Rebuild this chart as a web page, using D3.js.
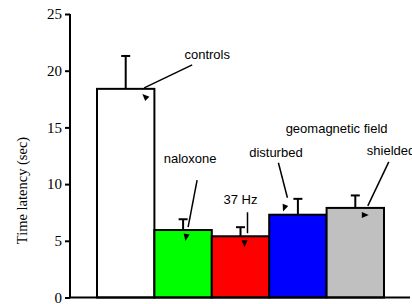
<!DOCTYPE html>
<html>
<head>
<meta charset="utf-8">
<script src="https://cdn.jsdelivr.net/npm/d3@7"></script>
<style>
  body { margin: 0; background: #fff; }
  svg { display: block; }
</style>
</head>
<body>
<div id="chart"></div>
<script>
var width  = 412;
var height = 304;

// data
var groups  = ['controls', 'naloxone', '37 Hz', 'disturbed', 'shielded'];
var means   = [18.4, 5.95, 5.4, 7.3, 7.9];
var errors  = [2.9, 0.95, 0.8, 1.4, 1.1];
var colours = ['#ffffff', '#00ff00', '#ff0000', '#0000ff', '#c0c0c0'];
var yTicks  = [0, 5, 10, 15, 20, 25];

var svg = d3.select('#chart')
    .append('svg')
    .attr('width', width)
    .attr('height', height);

var x = d3.scaleBand()
    .domain(groups)
    .range([97, 384])
    .padding(0);

var y = d3.scaleLinear()
    .domain([0, 25])
    .range([297.5, 14]);

var rows = groups.map(function(g, i) {
  return { group: g, mean: means[i], err: errors[i], colour: colours[i] };
});

// error bars (upper only, drawn first so bar outline sits on top)
var eb = svg.append('g');
eb.selectAll('line.stem')
    .data(rows)
    .enter()
    .append('line')
    .attr('x1', function(d) { return x(d.group) + x.bandwidth() / 2; })
    .attr('x2', function(d) { return x(d.group) + x.bandwidth() / 2; })
    .attr('y1', function(d) { return y(d.mean); })
    .attr('y2', function(d) { return y(d.mean + d.err); })
    .attr('stroke', '#000')
    .attr('stroke-width', 2);
eb.selectAll('line.cap')
    .data(rows)
    .enter()
    .append('line')
    .attr('x1', function(d) { return x(d.group) + x.bandwidth() / 2 - 4.5; })
    .attr('x2', function(d) { return x(d.group) + x.bandwidth() / 2 + 4.5; })
    .attr('y1', function(d) { return y(d.mean + d.err); })
    .attr('y2', function(d) { return y(d.mean + d.err); })
    .attr('stroke', '#000')
    .attr('stroke-width', 2);

// bars
svg.append('g')
  .selectAll('rect')
    .data(rows)
    .enter()
    .append('rect')
    .attr('x', function(d) { return x(d.group); })
    .attr('width', x.bandwidth())
    .attr('y', function(d) { return y(d.mean); })
    .attr('height', function(d) { return y(0) - y(d.mean); })
    .attr('fill', function(d) { return d.colour; })
    .attr('stroke', '#000')
    .attr('stroke-width', 2);

// axes
var yAxis = d3.axisLeft(y)
    .tickValues(yTicks)
    .tickSize(5)
    .tickPadding(3);

var ga = svg.append('g')
    .attr('transform', 'translate(70,0)')
    .call(yAxis);
ga.select('.domain').attr('stroke-width', 2).attr('d', 'M0,' + y(25) + 'V' + y(0));
ga.selectAll('.tick line').attr('stroke-width', 2);
ga.selectAll('.tick text')
    .attr('font-family', '"Liberation Serif", "Times New Roman", serif')
    .attr('font-size', 15)
    .attr('fill', '#000');

svg.append('line')
    .attr('x1', 69).attr('x2', 410)
    .attr('y1', y(0)).attr('y2', y(0))
    .attr('stroke', '#000')
    .attr('stroke-width', 2);

svg.append('text')
    .attr('transform', 'translate(27,' + 190.5 + ') rotate(-90)')
    .attr('text-anchor', 'middle')
    .attr('font-family', '"Liberation Serif", "Times New Roman", serif')
    .attr('font-size', 14.5)
    .text('Time latency (sec)');

// annotations: offsets from bar centre / bar top, in px
var notes = [
  { i: 0, tx: 81.5, ty: -30, anchor: 'middle', l: [18.5, -1, 66.5, -24], a: [19.5, 8, -135] },
  { i: 1, tx: 7,    ty: -67, anchor: 'middle', l: [14, -50, 5, -3],      a: [3, 7, 100] },
  { i: 2, tx: 0,    ty: -32, anchor: 'middle', l: [7, -24, 7, -3],       a: [4, 7, 90] },
  { i: 3, tx: -22,  ty: -58, anchor: 'middle', l: [-19.5, -52, -10.5, -17], a: [-13.5, -7, 110] },
  { i: 4, tx: 11.5, ty: -53, anchor: 'start',  l: [33.5, -46, 12.5, -2], a: [9.5, 7, 0] }
];

var an = svg.append('g')
    .attr('font-family', '"Liberation Sans", Arial, sans-serif')
    .attr('font-size', 13);

notes.forEach(function(n) {
  var d = rows[n.i];
  var cx = x(d.group) + x.bandwidth() / 2;
  var cy = y(d.mean);
  an.append('text')
      .attr('x', cx + n.tx)
      .attr('y', cy + n.ty)
      .attr('text-anchor', n.anchor)
      .text(d.group);
  an.append('line')
      .attr('x1', cx + n.l[0]).attr('y1', cy + n.l[1])
      .attr('x2', cx + n.l[2]).attr('y2', cy + n.l[3])
      .attr('stroke', '#000')
      .attr('stroke-width', 1.5);
  an.append('path')
      .attr('d', 'M4,0L-3,-3L-3,3Z')
      .attr('transform', 'translate(' + (cx + n.a[0]) + ',' + (cy + n.a[1]) + ') rotate(' + n.a[2] + ')')
      .attr('fill', '#000');
});

an.append('text')
    .attr('x', x('shielded') + 10)
    .attr('y', y(14.5))
    .attr('text-anchor', 'middle')
    .text('geomagnetic field');
</script>
</body>
</html>
